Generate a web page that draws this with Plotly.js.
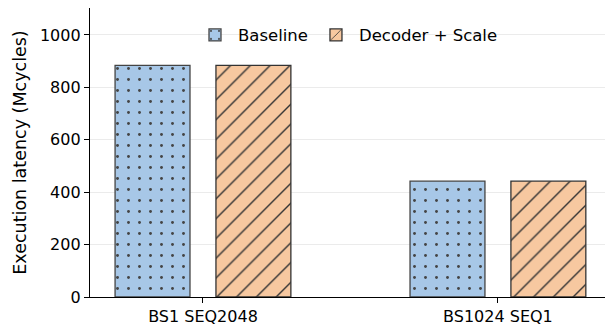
<!DOCTYPE html>
<html><head><meta charset="utf-8">
<script src="https://cdn.plot.ly/plotly-3.0.1.min.js"></script>
<style>html,body{margin:0;padding:0;background:#fff}#c{width:606px;height:330px}</style>
</head><body><div id="c"></div>
<script>
const categories = ["BS1 SEQ2048", "BS1024 SEQ1"];
const baseline = [884, 442];
const decoderScale = [884, 442];
const seriesNames = ["Baseline", "Decoder + Scale"];
const yTicks = [0, 200, 400, 600, 800, 1000];

const tickFont = {family: "DejaVu Sans", size: 16, color: "#000"};
const legendFont = {family: "DejaVu Sans", size: 16.5, color: "#000"};
const traces = [
  {type: "bar", name: seriesNames[0], x: categories, y: baseline,
   width: 0.254, offset: -0.298,
   marker: {color: "#a7c7e7", line: {color: "#444", width: 1.3},
            pattern: {shape: ".", fgcolor: "#444", fgopacity: 1, size: 11, solidity: 0.055, fillmode: "overlay"}}},
  {type: "bar", name: seriesNames[1], x: categories, y: decoderScale,
   width: 0.254, offset: 0.044,
   marker: {color: "#f7c8a0", line: {color: "#333", width: 1.3},
            pattern: {shape: "/", fgcolor: "#333", fgopacity: 1, size: 14, solidity: 0.1, fillmode: "overlay"}}}
];
const layout = {
  width: 606, height: 330,
  margin: {l: 90, r: 1, t: 8, b: 33, pad: 0},
  paper_bgcolor: "#fff", plot_bgcolor: "#fff",
  font: tickFont,
  showlegend: true,
  legend: {orientation: "h", x: 0.5, xanchor: "center", y: 0.906, yanchor: "middle",
           bgcolor: "rgba(0,0,0,0)", font: legendFont, itemwidth: 36},
  xaxis: {type: "category", range: [-0.383, 1.363], showline: true, linecolor: "#000", linewidth: 1.2,
          ticks: "outside", ticklen: 5, tickcolor: "#000", showgrid: false, zeroline: false,
          tickfont: tickFont},
  yaxis: {range: [0, 1103], tickvals: yTicks, showline: true, linecolor: "#000", linewidth: 1.2,
          ticks: "outside", ticklen: 5, tickcolor: "#000", showgrid: true, gridcolor: "#ebebeb", gridwidth: 1,
          zeroline: false, tickfont: tickFont,
          title: {text: "Execution latency (Mcycles)", font: {family: "DejaVu Sans", size: 17.5, color: "#000"}, standoff: 8}}
};
Plotly.newPlot("c", traces, layout, {displayModeBar: false, staticPlot: true});
</script></body></html>
